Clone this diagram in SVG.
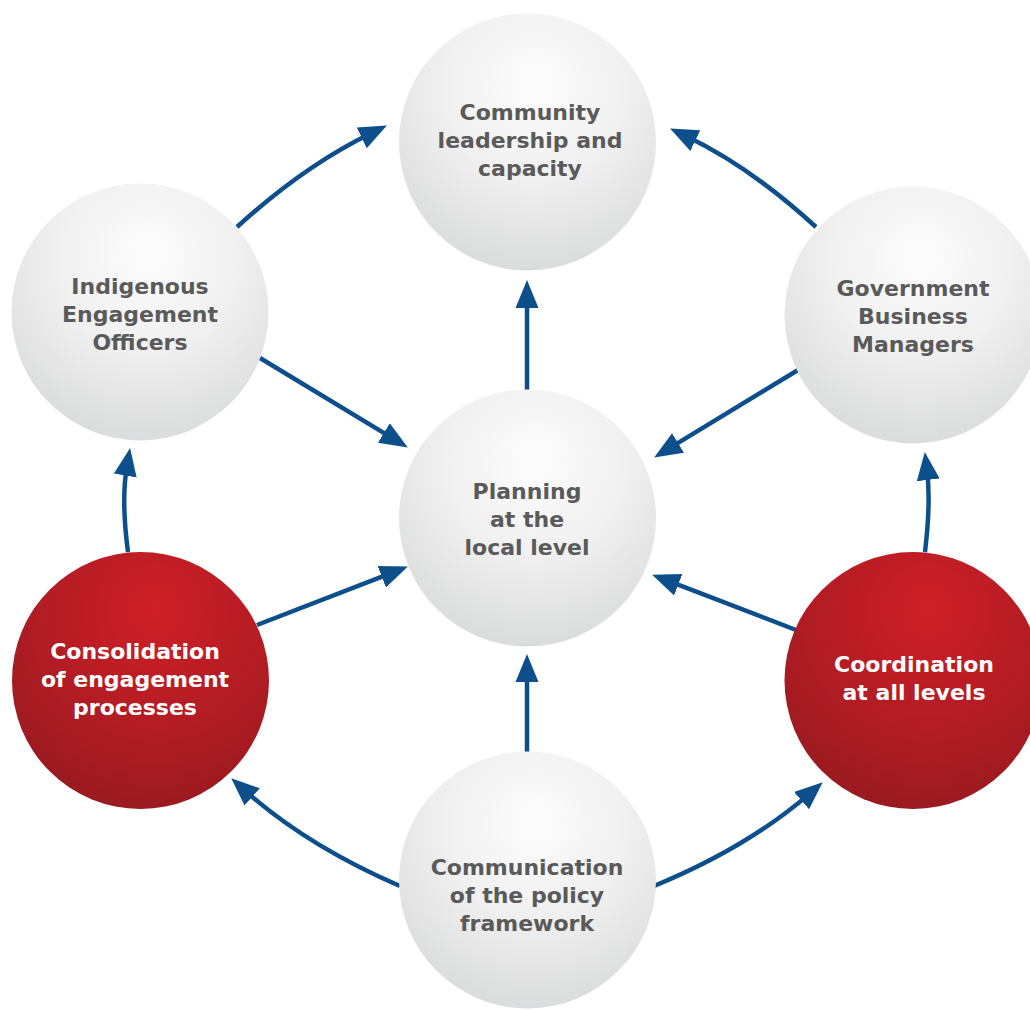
<svg xmlns="http://www.w3.org/2000/svg" width="1030" height="1010" viewBox="0 0 1030 1010">
<defs>
<radialGradient id="gGray" cx="0.53" cy="0.3" r="0.8" fx="0.53" fy="0.27">
<stop offset="0" stop-color="#fdfdfd"/>
<stop offset="0.45" stop-color="#f0f0f0"/>
<stop offset="1" stop-color="#d5d6d7"/>
</radialGradient>
<radialGradient id="gRed" cx="0.56" cy="0.25" r="0.85" fx="0.56" fy="0.22">
<stop offset="0" stop-color="#cf1f28"/>
<stop offset="0.55" stop-color="#b11c23"/>
<stop offset="1" stop-color="#921a1e"/>
</radialGradient>
<marker id="ah" markerUnits="userSpaceOnUse" markerWidth="30" markerHeight="26" viewBox="0 -13 30 26" refX="10" refY="0" orient="auto">
<path d="M0,-11.5 L28,0 L0,11.5 z" fill="#0d4f8b"/>
</marker>
</defs>
<style>
.gray{fill:url(#gGray)}
.red{fill:url(#gRed)}
.t{font-family:"DejaVu Sans","Liberation Sans",sans-serif;font-weight:bold;font-size:22px;text-anchor:middle}
.tg{fill:#5a5a5a}
.tw{fill:#ffffff}
.c{fill:none;stroke:#0d4f8b;stroke-width:4.5;marker-end:url(#ah)}
</style>
<rect width="1030" height="1010" fill="#ffffff"/>
<g id="connectors">
<path class="c" d="M237,227 Q304,166 370.7,133.5"/>
<path class="c" d="M816,227 Q750.8,167.2 686.3,136.3"/>
<path class="c" d="M527,391 L527,298"/>
<path class="c" d="M260,358 L392.4,438.2"/>
<path class="c" d="M798,370 L669.5,448.2"/>
<path class="c" d="M128,552 Q121,500 127,465.7"/>
<path class="c" d="M925,552 Q931,502 927,469.9"/>
<path class="c" d="M257,625 L391.1,573.1"/>
<path class="c" d="M796,630 L668.9,581.1"/>
<path class="c" d="M527,755 L527,672"/>
<path class="c" d="M400,886 Q307.4,846 244.7,790.3"/>
<path class="c" d="M654,886 Q746.4,848.1 809.1,794.1"/>
</g>
<g id="community">
<circle class="gray" cx="527.5" cy="142" r="128.5"/>
<text class="t tg" x="530" y="120">Community</text>
<text class="t tg" x="530" y="148">leadership and</text>
<text class="t tg" x="530" y="176">capacity</text>
</g>
<g id="indigenous">
<circle class="gray" cx="140" cy="312" r="128.5"/>
<text class="t tg" x="140" y="294">Indigenous</text>
<text class="t tg" x="140" y="322">Engagement</text>
<text class="t tg" x="140" y="350">Officers</text>
</g>
<g id="government">
<circle class="gray" cx="913" cy="315" r="128.5"/>
<text class="t tg" x="913" y="296">Government</text>
<text class="t tg" x="913" y="324">Business</text>
<text class="t tg" x="913" y="352">Managers</text>
</g>
<g id="planning">
<circle class="gray" cx="527.5" cy="518" r="128.5"/>
<text class="t tg" x="527" y="499">Planning</text>
<text class="t tg" x="527" y="527">at the</text>
<text class="t tg" x="527" y="555">local level</text>
</g>
<g id="consolidation">
<circle class="red" cx="140.5" cy="680.5" r="128.5"/>
<text class="t tw" x="135" y="659">Consolidation</text>
<text class="t tw" x="135" y="687">of engagement</text>
<text class="t tw" x="135" y="715">processes</text>
</g>
<g id="coordination">
<circle class="red" cx="913" cy="680.5" r="128.5"/>
<text class="t tw" x="914" y="672">Coordination</text>
<text class="t tw" x="914" y="700">at all levels</text>
</g>
<g id="communication">
<circle class="gray" cx="527.5" cy="880" r="128.5"/>
<text class="t tg" x="527" y="875">Communication</text>
<text class="t tg" x="527" y="903">of the policy</text>
<text class="t tg" x="527" y="931">framework</text>
</g>
</svg>
